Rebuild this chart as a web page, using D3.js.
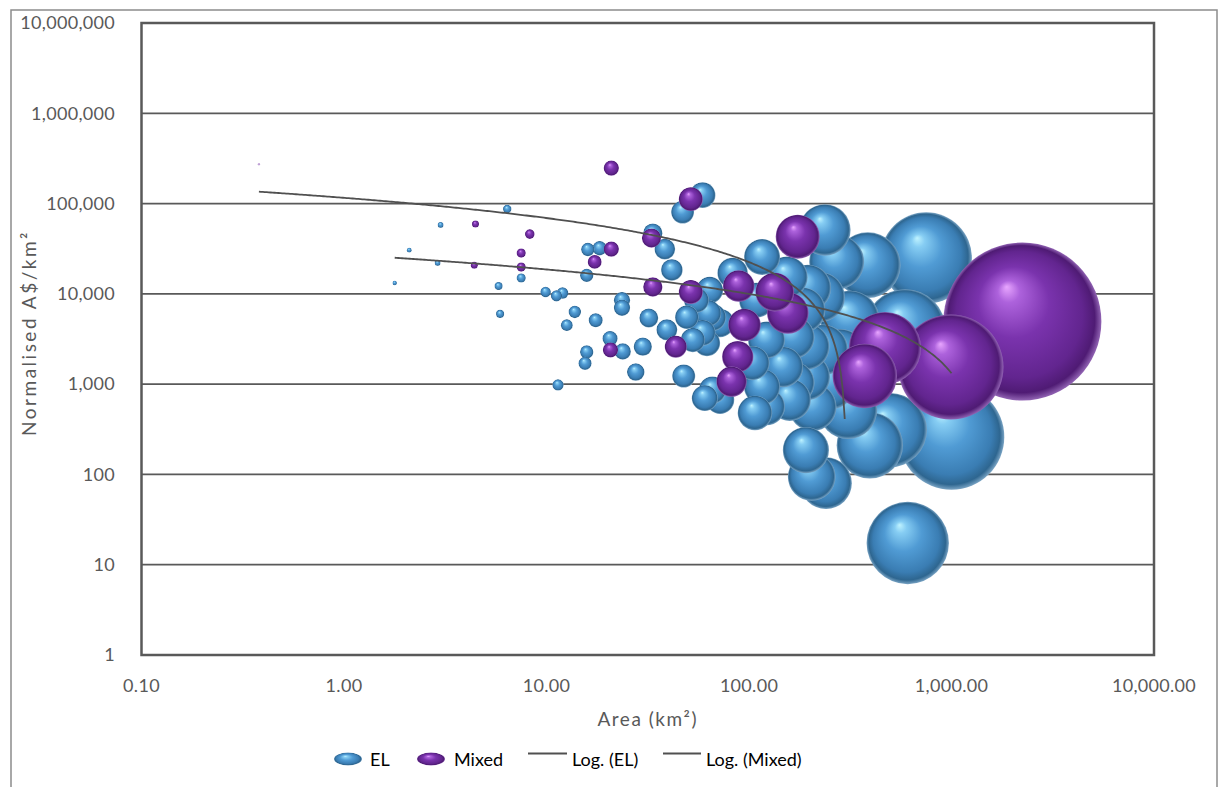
<!DOCTYPE html>
<html>
<head>
<meta charset="utf-8">
<script src="https://cdn.jsdelivr.net/npm/d3@7"></script>
<style>
  html, body { margin: 0; padding: 0; background: #fff; }
  svg { display: block; font-family: Lato, "Open Sans", sans-serif; }
</style>
</head>
<body>
<svg id="chart" width="1224" height="787"></svg>
<script>
// Area (km²) and normalised A$/km² for each region; bubble size is the area itself.
const elArea = [1.78, 2.1, 2.9, 3.0, 6.4, 5.8, 7.5, 5.9, 9.9, 11.2, 12.0, 13.8, 12.6, 11.4, 17.5, 15.8, 15.5, 20.6, 23.8, 16,
  18.3, 15.8, 23.6, 23.6, 27.6, 29.9, 32, 33.5, 38.4, 41.6, 47.6, 49.3, 39.3, 59, 47, 52.8, 62, 62.7, 64, 60.5,
  66, 72, 107, 116, 83, 109, 122, 147, 104, 59, 66, 55, 116, 237, 271, 386, 750, 224, 315, 281,
  193, 159, 191, 204, 240, 608, 1000, 496, 308, 395, 165, 165, 231, 251, 72, 154, 192, 206, 184, 195,
  122, 590];
const elValue = [13200, 30500, 22000, 58000, 87000, 12200, 15000, 6000, 10500, 9500, 10200, 6300, 4500, 980, 5100, 2270, 1700, 3200, 2300, 31000,
  32000, 16000, 8500, 7000, 1360, 2600, 5400, 47000, 31300, 18400, 1230, 5500, 4000, 124000, 80500, 3080, 2850, 6100, 11000, 700,
  860, 670, 480, 930, 17000, 8500, 3080, 1550, 1710, 3700, 5500, 8500, 25600, 51000, 22500, 20800, 24900, 9200, 5100, 2000,
  1200, 670, 186, 94, 80, 17.4, 260, 310, 520, 210, 3300, 1030, 2390, 1030, 4750, 15300, 2600, 557, 6600, 11600,
  560, 4000];

const mixedArea = [0.38, 4.46, 4.4, 8.27, 7.5, 7.5, 20.9, 51.6, 20.9, 17.3, 33, 33.5, 20.7, 51.6, 43.5, 89, 95, 88, 82, 134,
  155.5, 174, 373, 469, 993, 2239];
const mixedValue = [273000, 59300, 20800, 45900, 28300, 19800, 247000, 112000, 31300, 22600, 41500, 11900, 2390, 10500, 2600, 12200, 4510, 2010, 1064, 10470,
  6130, 42900, 1230, 2510, 1548, 4935];

// Logarithmic trend lines: value = a·ln(area) + b, drawn over [from, to]
const trendEL = [-3760, 27293];
const trendELRange = [1.78, 1000];
const trendMixed = [-20261, 115772];
const trendMixedRange = [0.38, 297];

const xTicks = [0.1, 1, 10, 100, 1000, 10000];
const yTicks = [1, 10, 100, 1000, 10000, 100000, 1000000, 10000000];
const legendLabels = ["EL", "Mixed", "Log. (EL)", "Log. (Mixed)"];

const svg = d3.select("#chart");
const plot = { left: 141.5, right: 1154, top: 23, bottom: 655 };

const x = d3.scaleLog().domain([0.1, 10000]).range([plot.left, plot.right]);
const y = d3.scaleLog().domain([1, 10000000]).range([plot.bottom, plot.top]);
const maxSize = d3.max(elArea.concat(mixedArea));
const rMax = Math.min(plot.right - plot.left, plot.bottom - plot.top) * 0.125;
const r = d3.scaleSqrt().domain([0, maxSize]).range([0, rMax]);

// sphere shading
const defs = svg.append("defs");
function sphere(id, stops) {
  const g = defs.append("radialGradient").attr("id", id)
    .attr("cx", 0.5).attr("cy", 0.5).attr("r", 0.5).attr("fx", 0.4).attr("fy", 0.28);
  stops.forEach(([o, c]) => g.append("stop").attr("offset", o).attr("stop-color", c));
}
sphere("gEL", [[0, "#bff3ff"], [0.14, "#86cdf3"], [0.45, "#509bd4"], [0.8, "#3a7db3"], [0.93, "#2e6690"], [1, "#7aa4c4"]]);
sphere("gMixed", [[0, "#e8a6ff"], [0.14, "#ad62dc"], [0.45, "#7a33ad"], [0.8, "#62258f"], [0.93, "#4f1b74"], [1, "#9264b4"]]);
defs.append("clipPath").attr("id", "plotClip").append("rect")
  .attr("x", plot.left).attr("y", plot.top)
  .attr("width", plot.right - plot.left).attr("height", plot.bottom - plot.top);

// outer chart border
svg.append("rect").attr("x", 11).attr("y", 10).attr("width", 1206).attr("height", 800)
  .attr("fill", "none").attr("stroke", "#8c8c8c").attr("stroke-width", 1.5);

// horizontal gridlines
svg.append("g").selectAll("line").data(yTicks.slice(1, -1)).join("line")
  .attr("x1", plot.left).attr("x2", plot.right)
  .attr("y1", d => y(d)).attr("y2", d => y(d))
  .attr("stroke", "#595959").attr("stroke-width", 1.8);

// axes labels
const fmtY = d3.format(",.0f");
const fmtX = d3.format(",.2f");
svg.append("g").selectAll("text").data(yTicks).join("text")
  .attr("x", 115).attr("y", d => y(d)).attr("dy", "0.35em")
  .attr("text-anchor", "end").attr("fill", "#595959").attr("font-size", 18).attr("letter-spacing", 0.3)
  .text(d => fmtY(d));
svg.append("g").selectAll("text").data(xTicks).join("text")
  .attr("x", d => x(d)).attr("y", 692)
  .attr("text-anchor", "middle").attr("fill", "#595959").attr("font-size", 18).attr("letter-spacing", 0.3)
  .text(d => fmtX(d));

svg.append("text").attr("x", (plot.left + plot.right) / 2).attr("y", 726)
  .attr("text-anchor", "middle").attr("fill", "#595959").attr("font-size", 19).attr("letter-spacing", 1.5)
  .text("Area (km²)");
svg.append("text")
  .attr("transform", `translate(36,${(plot.top + plot.bottom) / 2 - 6}) rotate(-90)`)
  .attr("text-anchor", "middle").attr("fill", "#595959").attr("font-size", 19).attr("letter-spacing", 2.5)
  .text("Normalised A$/km²");

// bubbles: larger ones behind smaller ones, Mixed series over EL
function drawSeries(area, value, fill) {
  const pts = area.map((a, i) => ({ a, v: value[i] })).sort((p, q) => q.a - p.a);
  svg.append("g").attr("clip-path", "url(#plotClip)")
    .selectAll("circle").data(pts).join("circle")
    .attr("cx", d => x(d.a)).attr("cy", d => y(d.v)).attr("r", d => Math.max(r(d.a), 1.2))
    .attr("fill", fill)
    .attr("opacity", d => r(d.a) < 2 ? 0.45 : 1);
}
drawSeries(elArea, elValue, "url(#gEL)");
drawSeries(mixedArea, mixedValue, "url(#gMixed)");

// trend lines
function trend(coef, range) {
  const n = 300;
  const l0 = Math.log10(range[0]), l1 = Math.log10(range[1]);
  return d3.range(n + 1).map(i => {
    const a = Math.pow(10, l0 + (l1 - l0) * i / n);
    return [a, coef[0] * Math.log(a) + coef[1]];
  }).filter(p => p[1] > 0);
}
const line = d3.line().x(d => x(d[0])).y(d => y(d[1]));
[[trendEL, trendELRange], [trendMixed, trendMixedRange]].forEach(([c, rg]) => {
  svg.append("path").attr("d", line(trend(c, rg)))
    .attr("fill", "none").attr("stroke", "#505050").attr("stroke-width", 1.8);
});

// plot frame
svg.append("rect").attr("x", plot.left).attr("y", plot.top)
  .attr("width", plot.right - plot.left).attr("height", plot.bottom - plot.top)
  .attr("fill", "none").attr("stroke", "#595959").attr("stroke-width", 2.5);

// legend
const lg = svg.append("g").attr("font-size", 18).attr("fill", "#000");
lg.append("ellipse").attr("cx", 348).attr("cy", 759).attr("rx", 14).attr("ry", 6.5).attr("fill", "url(#gEL)");
lg.append("text").attr("x", 370).attr("y", 765.5).text(legendLabels[0]);
lg.append("ellipse").attr("cx", 431).attr("cy", 759).attr("rx", 14).attr("ry", 6.5).attr("fill", "url(#gMixed)");
lg.append("text").attr("x", 454).attr("y", 765.5).text(legendLabels[1]);
lg.append("line").attr("x1", 528).attr("x2", 567).attr("y1", 753.5).attr("y2", 753.5)
  .attr("stroke", "#505050").attr("stroke-width", 1.8);
lg.append("text").attr("x", 572).attr("y", 765.5).text(legendLabels[2]);
lg.append("line").attr("x1", 663).attr("x2", 701).attr("y1", 753.5).attr("y2", 753.5)
  .attr("stroke", "#505050").attr("stroke-width", 1.8);
lg.append("text").attr("x", 706).attr("y", 765.5).text(legendLabels[3]);
</script>
</body>
</html>
